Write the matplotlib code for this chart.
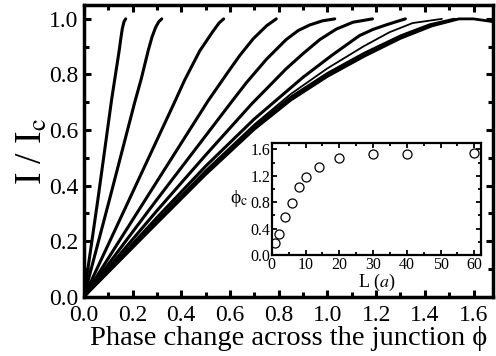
import matplotlib
matplotlib.use("Agg")
import matplotlib.pyplot as plt
from matplotlib.ticker import MultipleLocator, FormatStrFormatter

plt.rcParams['font.family'] = ['Liberation Serif', 'DejaVu Serif']
plt.rcParams['mathtext.fontset'] = 'stix'

# Current-phase curves (phi, I/Ic), one per junction length
c1_phi = [0.0, 0.0575, 0.114, 0.13, 0.145, 0.152, 0.158, 0.165, 0.172]
c1_I = [0.0, 0.349, 0.709, 0.80, 0.885, 0.93, 0.965, 0.99, 1.0]
c2_phi = [0.0, 0.105, 0.209, 0.236, 0.264, 0.28, 0.295, 0.308, 0.32]
c2_I = [0.0, 0.349, 0.70, 0.785, 0.885, 0.935, 0.97, 0.99, 1.0]
c3_phi = [0.0, 0.189, 0.375, 0.414, 0.476, 0.53, 0.555, 0.574]
c3_I = [0.0, 0.355, 0.705, 0.78, 0.885, 0.955, 0.985, 1.0]
c4_phi = [0.0, 0.30, 0.51, 0.585, 0.64, 0.695, 0.75, 0.79]
c4_I = [0.0, 0.415, 0.705, 0.80, 0.868, 0.928, 0.975, 1.0]
c5_phi = [0.0, 0.30, 0.613, 0.667, 0.75, 0.83, 0.88, 0.927, 0.98, 1.03]
c5_I = [0.0, 0.35, 0.709, 0.77, 0.855, 0.925, 0.958, 0.978, 0.993, 1.0]
c6_phi = [0.0, 0.30, 0.50, 0.69, 0.763, 0.83, 0.90, 0.968, 1.036, 1.105, 1.185]
c6_I = [0.0, 0.31, 0.51, 0.695, 0.76, 0.82, 0.875, 0.925, 0.963, 0.988, 1.0]
c7_phi = [0.0, 0.30, 0.50, 0.70, 0.90, 1.02, 1.132, 1.187, 1.24, 1.283, 1.32]
c7_I = [0.0, 0.285, 0.47, 0.64, 0.79, 0.87, 0.94, 0.962, 0.978, 0.99, 1.0]
c8_phi = [0.0, 0.30, 0.50, 0.70, 0.85, 1.0, 1.15, 1.255, 1.35, 1.47]
c8_I = [0.0, 0.275, 0.455, 0.62, 0.73, 0.822, 0.902, 0.952, 0.985, 1.0]
c9_phi = [0.0, 0.30, 0.50, 0.70, 0.85, 1.0, 1.15, 1.30, 1.42, 1.52]
c9_I = [0.0, 0.27, 0.45, 0.615, 0.72, 0.805, 0.877, 0.94, 0.98, 1.0]
c10_phi = [0.0, 0.30, 0.50, 0.70, 0.85, 1.0, 1.15, 1.30, 1.42, 1.53]
c10_I = [0.0, 0.268, 0.445, 0.61, 0.715, 0.80, 0.87, 0.935, 0.975, 1.0]
c11_phi = [0.0, 0.30, 0.50, 0.70, 0.85, 1.0, 1.15, 1.30, 1.43, 1.54, 1.60, 1.68]
c11_I = [0.0, 0.265, 0.44, 0.603, 0.708, 0.793, 0.865, 0.93, 0.975, 1.0, 1.0, 0.99]

curves = [(c1_phi, c1_I), (c2_phi, c2_I), (c3_phi, c3_I), (c4_phi, c4_I),
          (c5_phi, c5_I), (c6_phi, c6_I), (c7_phi, c7_I), (c8_phi, c8_I),
          (c9_phi, c9_I), (c10_phi, c10_I), (c11_phi, c11_I)]
curve_widths = [2.2, 2.2, 2.2, 2.2, 2.2, 2.2, 2.2, 1.3, 1.6, 1.3, 2.0]

# Inset: critical phase vs junction length
L_vals = [1, 2, 4, 6, 8, 10, 14, 20, 30, 40, 60]
phi_c = [0.18, 0.32, 0.57, 0.79, 1.03, 1.18, 1.33, 1.47, 1.53, 1.53, 1.54]

fig = plt.figure(figsize=(4.96, 3.56), dpi=100)
ax = fig.add_axes([0.169, 0.166, 0.825, 0.820])

for (p, i), lw in zip(curves, curve_widths):
    ax.plot(p, i, color='black', lw=lw, solid_capstyle='round', solid_joinstyle='round')

ax.set_xlim(0, 1.68)
ax.set_ylim(0, 1.05)
ax.xaxis.set_major_locator(MultipleLocator(0.2))
ax.xaxis.set_minor_locator(MultipleLocator(0.1))
ax.yaxis.set_major_locator(MultipleLocator(0.2))
ax.yaxis.set_minor_locator(MultipleLocator(0.1))
ax.xaxis.set_major_formatter(FormatStrFormatter('%.1f'))
ax.yaxis.set_major_formatter(FormatStrFormatter('%.1f'))
ax.tick_params(which='both', direction='in', top=True, right=True, width=2.2)
ax.tick_params(which='major', length=5, labelsize=17)
ax.tick_params(axis='x', which='major', pad=6)
ax.tick_params(axis='y', which='major', pad=4)
ax.tick_params(which='minor', length=3.5)
for s in ax.spines.values():
    s.set_linewidth(2.5)
ax.set_xlabel('Phase change across the junction \u03d5', fontsize=20.5, labelpad=0)
ax.set_ylabel('I / I$_{\\rm c}$', fontsize=27, labelpad=-1)

ins = fig.add_axes([0.548, 0.284, 0.422, 0.315])
ins.plot(L_vals, phi_c, linestyle='none', marker='o', markersize=6.5,
         markerfacecolor='white', markeredgecolor='black', markeredgewidth=0.9)
ins.set_xlim(0, 62)
ins.set_ylim(0, 1.7)
ins.xaxis.set_major_locator(MultipleLocator(10))
ins.xaxis.set_minor_locator(MultipleLocator(5))
ins.yaxis.set_major_locator(MultipleLocator(0.4))
ins.yaxis.set_minor_locator(MultipleLocator(0.2))
ins.yaxis.set_major_formatter(FormatStrFormatter('%.1f'))
ins.tick_params(which='both', direction='in', top=True, right=True, width=1.3)
ins.tick_params(which='major', length=3.5, labelsize=11.5)
ins.tick_params(axis='x', which='major', pad=1.5)
ins.tick_params(axis='y', which='major', pad=1)
ins.tick_params(which='minor', length=2.5)
for s in ins.spines.values():
    s.set_linewidth(1.6)
ins.set_xlabel('L ($\\it{a}$)', fontsize=13, labelpad=-1)
ins.set_ylabel('\u03d5$_{\\rm c}$', fontsize=14, rotation=0, labelpad=8, va='center')

fig.savefig('out.png', dpi=100)
